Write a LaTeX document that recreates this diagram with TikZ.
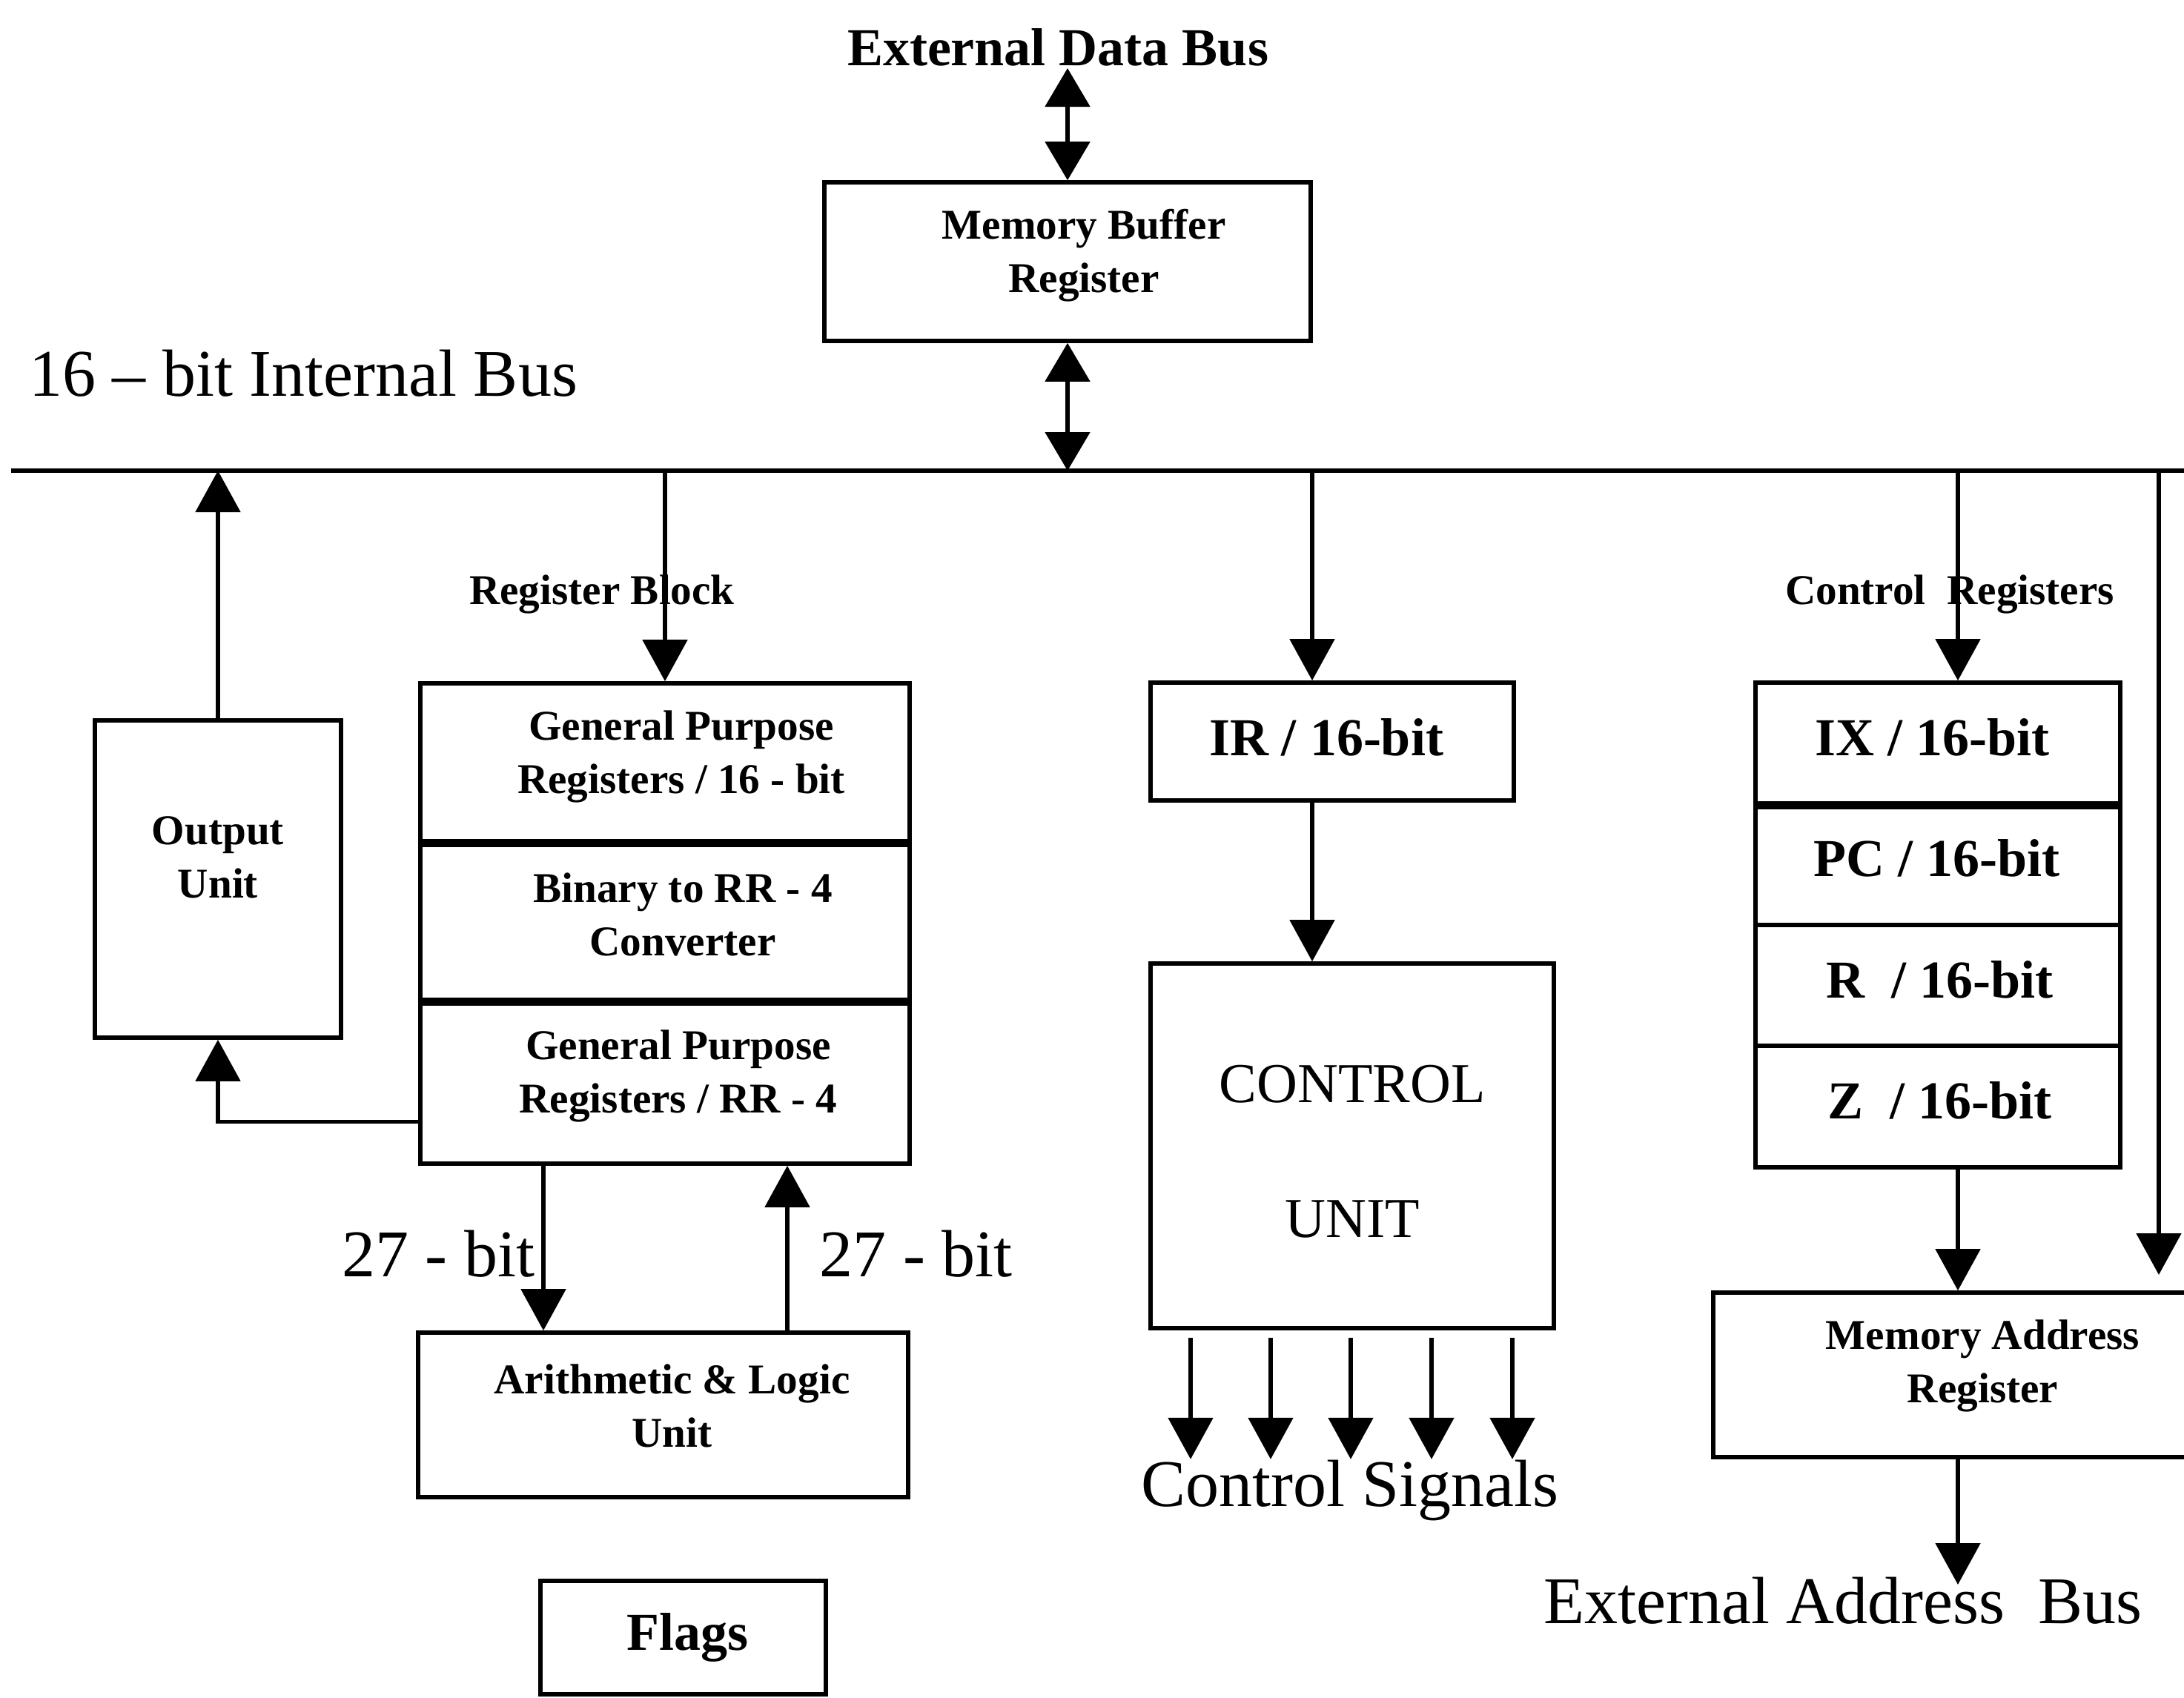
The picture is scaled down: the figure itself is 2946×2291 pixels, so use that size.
\documentclass[tikz,border=0pt]{standalone}
\usepackage{fontspec}
\setmainfont{Liberation Serif}
\usetikzlibrary{arrows.meta}
\begin{document}
\begin{tikzpicture}[x=0.25pt,y=-0.25pt,
  blk/.style={draw, line width=1.4pt, inner sep=0pt, rectangle},
  sbf/.style={font=\fontsize{14.3pt}{18pt}\selectfont\bfseries, align=center, inner sep=0pt},
  mbf/.style={font=\fontsize{18pt}{22pt}\selectfont\bfseries, align=center, inner sep=0pt},
  bigf/.style={font=\fontsize{22.5pt}{27pt}\selectfont, inner sep=0pt},
  cuf/.style={font=\fontsize{19pt}{45.5pt}\selectfont, align=center, inner sep=0pt},
  arr/.style={line width=1.3pt, -{Triangle[length=14pt,width=15pt]}},
  darr/.style={line width=1.3pt, {Triangle[length=13pt,width=15pt]}-{Triangle[length=13pt,width=15pt]}},
  busline/.style={line width=1.5pt},
  divline/.style={line width=2.6pt}
]
\useasboundingbox (0,0) rectangle (2946,2291);

% boxes
\node[blk, minimum width=164pt, minimum height=53.5pt] (mbr) at (1440,353) {};
\node[sbf] (mbrT) at ([shift={(5.5pt,2pt)}]mbr.center) {Memory Buffer\\Register};

\node[blk, minimum width=83pt, minimum height=107pt] (out) at (294,1186) {};
\node[sbf] (outT) at ([yshift=7.25pt]out.center) {Output\\Unit};

\node[blk, minimum width=165pt, minimum height=53.25pt] (gp16) at (897,1028.5) {};
\node[sbf] (gp16T) at ([shift={(5.5pt,2pt)}]gp16.center) {General Purpose\\Registers / 16 - bit};
\node[blk, minimum width=165pt, minimum height=53.5pt] (conv) at (897,1242) {};
\node[sbf] (convT) at ([shift={(6pt,2pt)}]conv.center) {Binary to RR - 4\\Converter};
\node[blk, minimum width=165pt, minimum height=55.25pt] (gprr) at (897,1459.5) {};
\node[sbf] (gprrT) at ([shift={(4.5pt,2pt)}]gprr.center) {General Purpose\\Registers / RR - 4};
\draw[divline] (gp16.south west) -- (gp16.south east);
\draw[divline] (conv.south west) -- (conv.south east);

\node[blk, minimum width=165.25pt, minimum height=55.5pt] (alu) at (894.5,1909) {};
\node[sbf] (aluT) at ([shift={(3pt,3pt)}]alu.center) {Arithmetic \& Logic\\Unit};
\node[blk, minimum width=96.25pt, minimum height=38.25pt] (flags) at (921.5,2209.5) {};
\node[mbf] (flagsT) at ([xshift=1.5pt]flags.center) {Flags};

\node[blk, minimum width=122.5pt, minimum height=39.75pt] (ir) at (1797,1000.5) {};
\node[mbf] (irT) at ([shift={(-2pt,1.5pt)}]ir.center) {IR / 16-bit};

\node[blk, minimum width=136pt, minimum height=123pt] (cu) at (1824,1546) {};
\node[cuf] (cuT) at ([yshift=-2pt]cu.center) {CONTROL\\UNIT};

\node[blk, minimum width=123pt, minimum height=40.75pt] (ix) at (2614,1002.5) {};
\node[mbf] (ixT) at ([shift={(-2pt,2pt)}]ix.center) {IX / 16-bit};
\node[blk, minimum width=123pt, minimum height=41pt] (pc) at (2614,1166) {};
\node[mbf] (pcT) at ([shift={(-0.5pt,2pt)}]pc.center) {PC / 16-bit};
\node[blk, minimum width=123pt, minimum height=40.75pt] (rr) at (2614,1329.5) {};
\node[mbf] (rrT) at ([shift={(0.5pt,2pt)}]rr.center) {R\ \ / 16-bit};
\node[blk, minimum width=123pt, minimum height=41pt] (zz) at (2614,1493) {};
\node[mbf] (zzT) at ([shift={(0.5pt,2pt)}]zz.center) {Z\ \ / 16-bit};
\draw[divline] (ix.south west) -- (ix.south east);

\node[blk, minimum width=172.25pt, minimum height=55.5pt] (mar) at (2655.5,1855) {};
\node[sbf] (marT) at ([shift={(4.75pt,3pt)}]mar.center) {Memory Address\\Register};

% free labels
\node[mbf, anchor=base] (edbT) at (1427,88) {External Data Bus};
\node[bigf, anchor=base] (busT) at (409,534) {16 – bit Internal Bus};
\node[sbf, anchor=base] (rbT) at (812,815) {Register Block};
\node[sbf, anchor=base] (crT) at (2630,815) {Control\ \ Registers};
\node[bigf, anchor=base east] (b27L) at (722,1722) {27 - bit};
\node[bigf, anchor=base west] (b27R) at (1105,1722) {27 - bit};
\node[bigf, anchor=base] (csT) at (1821,2032) {Control Signals};
\node[bigf, anchor=base] (eabT) at (2486,2190) {External Address\ \ Bus};

% coordinates
\coordinate (busL) at (15,635);
\coordinate (busR) at (2960,635);
\coordinate (edbTip) at (1440,92);
\coordinate (tIR) at (1770,635);
\coordinate (tCR) at (2641,635);
\coordinate (tR) at (2912,635);
\coordinate (rEnd) at (2912,1720);
\coordinate (eab) at (2641,2138);
\coordinate (d27) at ([xshift=-41pt]gprr.south);
\coordinate (u27) at ([xshift=41.25pt]gprr.south);

% connectors
\draw[busline] (busL) -- (busR);
\draw[darr] (edbTip) -- (mbr.north);
\draw[darr] (mbr.south) -- (mbr.south |- busL);
\draw[arr] (out.north) -- (out.north |- busL);
\draw[arr] (gp16.north |- busL) -- (gp16.north);
\draw[arr] ([yshift=-13.4pt]gprr.west) -| (out.south);
\draw[arr] (d27) -- (d27 |- alu.north);
\draw[arr] (u27 |- alu.north) -- (u27);
\draw[arr] (tIR) -- (tIR |- ir.north);
\draw[arr] (tIR |- ir.south) -- (tIR |- cu.north);
\foreach \dx in {-54.5,-27.5,-0.5,26.75,54}
  \draw[arr] ([shift={(\dx pt,-2.5pt)}]cu.south) -- ++(0pt,-41pt);
\draw[arr] (tCR) -- (tCR |- ix.north);
\draw[arr] (tCR |- zz.south) -- (tCR |- mar.north);
\draw[arr] (tR) -- (rEnd);
\draw[arr] (tCR |- mar.south) -- (eab);
\end{tikzpicture}
\end{document}
